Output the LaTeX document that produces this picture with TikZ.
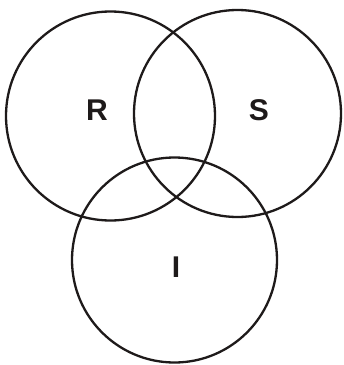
\documentclass[tikz,border=0pt]{standalone}
\usepackage{fontspec}
\setmainfont{Liberation Sans}
\definecolor{ink}{HTML}{1E1A1A}
\begin{document}
\begin{tikzpicture}[x=1pt,y=-1pt,
  ring/.style={draw=ink,line width=2.3pt,circle,minimum size=#1,inner sep=0pt},
  lbl/.style={text=ink,font=\fontsize{30}{32}\selectfont\bfseries,inner sep=0pt}]
\useasboundingbox[fill=white] (0,0) rectangle (344,365);
\node[ring=209pt] (R) at (110.5,116) {};
\node[ring=207pt] (S) at (237.5,113.5) {};
\node[ring=205pt] (I) at (174.5,260) {};
\node[lbl] (r) at (97,110) {R};
\node[lbl] (s) at (259,110) {S};
\node[lbl] (i) at (176,267) {I};
\end{tikzpicture}
\end{document}
